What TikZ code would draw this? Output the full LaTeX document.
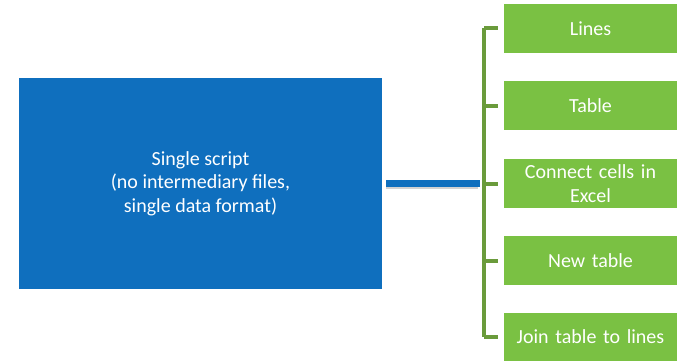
\documentclass[tikz,border=0pt]{standalone}
\usepackage{fontspec}
\setmainfont{Carlito}
\definecolor{mainblue}{HTML}{0F6FBE}
\definecolor{leafgreen}{HTML}{7AC143}
\definecolor{bracegreen}{HTML}{6A9B3B}
\begin{document}
\begin{tikzpicture}[x=1pt,y=-1pt,
  mainbox/.style={fill=mainblue,draw=none,text=white,align=center,font=\fontsize{20}{23.5}\selectfont,minimum width=363pt,minimum height=211pt,inner sep=0pt},
  leaf/.style={fill=leafgreen,draw=none,text=white,align=center,font=\fontsize{20}{23.5}\selectfont,minimum width=173pt,minimum height=49pt,inner sep=0pt,text width=170pt},
  brace/.style={draw=bracegreen,line width=4pt},
  link/.style={draw=mainblue,line width=7pt}]
\useasboundingbox (0,0) rectangle (677,361);
\node[mainbox] (src) at (200.5,183.5) {Single script\\(no intermediary files,\\single data format)};
\node[leaf] (l1) at (590.5,28.5) {Lines};
\node[leaf] (l2) at (590.5,105.5) {Table};
\node[leaf] (l3) at (590.5,183.5) {Connect cells in\\Excel};
\node[leaf] (l4) at (590.5,260.5) {New table};
\node[leaf] (l5) at (590.5,337) {Join table to lines};
% bracket spine and the hub where the main link meets it
\coordinate (top) at (484,28.5);
\coordinate (bot) at (484,337);
\coordinate (hub) at (484,183.5);
\coordinate (start) at (386,183.5);
\draw[brace] (top) -- (bot);
\foreach \n in {l1,l2,l3,l4,l5}{
  \draw[brace] (484,0 |- \n.west) -- ([xshift=-6pt]\n.west);
}
% soft shadow under the main link
\draw[draw=black!35,line width=6pt,opacity=0.5] ([yshift=-2.5pt]start) -- ([yshift=-2.5pt,xshift=-6pt]hub);
\draw[link] (start) -- ([xshift=-4pt]hub);
\end{tikzpicture}
\end{document}
